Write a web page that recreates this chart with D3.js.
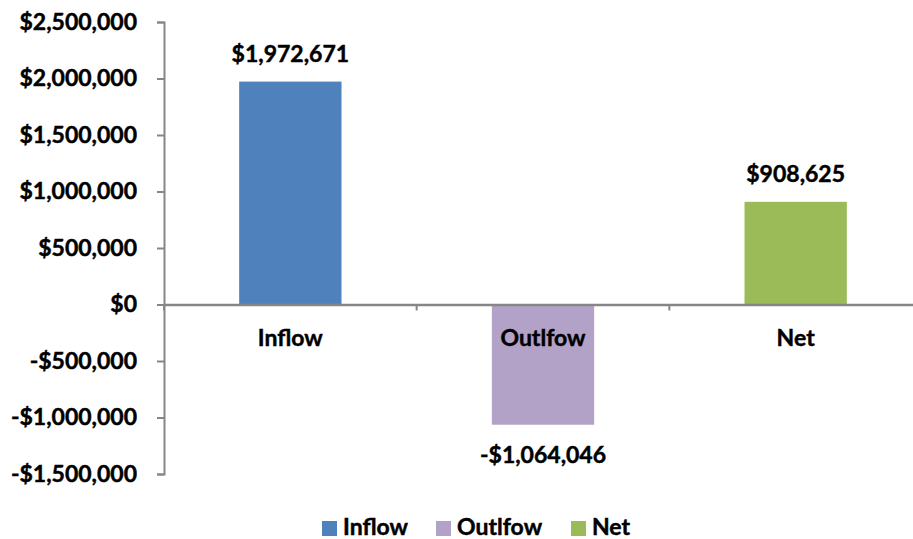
<!DOCTYPE html>
<html>
<head>
<meta charset="utf-8">
<script src="https://cdn.jsdelivr.net/npm/d3@7"></script>
<style>
  html, body { margin: 0; padding: 0; background: #fff; }
  svg { display: block; }
  text { font-family: Lato, "Open Sans", sans-serif; font-weight: 700; fill: #000; stroke: #000; stroke-width: 0.45px; }
</style>
</head>
<body>
<svg id="chart" width="913" height="539"></svg>
<script>
// Cash flow summary
const categories = ["Inflow", "Outlfow", "Net"];
const values = [1972671, -1064046, 908625];
const colors = ["#4F81BD", "#B3A2C7", "#9BBB59"];
const yTicks = [-1500000, -1000000, -500000, 0, 500000, 1000000, 1500000, 2000000, 2500000];

const svg = d3.select("#chart");
const axisColor = "#868686";
const fontSize = 23;

const x = d3.scaleBand().domain(categories).range([164, 922]).padding(0);
const y = d3.scaleLinear().domain([-1500000, 2500000]).range([474, 22]);
const barW = x.bandwidth() * 0.405;

const money = v => (v < 0 ? "-$" : "$") + d3.format(",")(Math.abs(v));

// Value axis
const yAxis = d3.axisLeft(y).tickValues(yTicks).tickFormat(money).tickSize(7).tickPadding(20);
const gy = svg.append("g").attr("transform", "translate(164,0)").call(yAxis);
gy.select(".domain").attr("stroke", axisColor).attr("stroke-width", 2);
gy.selectAll(".tick line").attr("stroke", axisColor).attr("stroke-width", 2);
gy.selectAll(".tick text").attr("font-size", fontSize).attr("font-family", null).attr("fill", "#000");

// Bars
svg.selectAll("rect.bar").data(values).join("rect")
  .attr("class", "bar")
  .attr("x", (d, i) => x(categories[i]) + (x.bandwidth() - barW) / 2)
  .attr("width", barW)
  .attr("y", d => y(Math.max(0, d)))
  .attr("height", d => Math.abs(y(d) - y(0)))
  .attr("fill", (d, i) => colors[i]);

// Category axis along zero
const xAxis = d3.axisBottom(x).tickSize(0).tickPadding(0).tickFormat("");
const gx = svg.append("g").attr("transform", `translate(0,${y(0)})`).call(xAxis);
gx.select(".domain").attr("stroke", axisColor).attr("stroke-width", 2.5);
gx.selectAll(".tick").remove();
// boundary ticks between categories
const bounds = categories.map(c => x(c)).concat([x.range()[1]]);
gx.selectAll("line.bound").data(bounds).join("line")
  .attr("class", "bound")
  .attr("x1", d => d).attr("x2", d => d)
  .attr("y1", 0).attr("y2", 6)
  .attr("stroke", axisColor).attr("stroke-width", 2);

// Category labels
svg.selectAll("text.cat").data(categories).join("text")
  .attr("class", "cat")
  .attr("x", d => x(d) + x.bandwidth() / 2)
  .attr("y", 346)
  .attr("text-anchor", "middle")
  .attr("font-size", fontSize)
  .text(d => d);

// Value labels
svg.selectAll("text.val").data(values).join("text")
  .attr("class", "val")
  .attr("x", (d, i) => x(categories[i]) + x.bandwidth() / 2)
  .attr("y", d => d >= 0 ? y(d) - 20 : y(d) + 38)
  .attr("text-anchor", "middle")
  .attr("font-size", fontSize)
  .text(d => money(d));

// Legend
const legendX = [322, 436, 571];
const lg = svg.append("g");
categories.forEach((c, i) => {
  lg.append("rect").attr("x", legendX[i]).attr("y", 521).attr("width", 15).attr("height", 15).attr("fill", colors[i]);
  lg.append("text").attr("x", legendX[i] + 21).attr("y", 535).attr("font-size", fontSize).text(c);
});
</script>
</body>
</html>
